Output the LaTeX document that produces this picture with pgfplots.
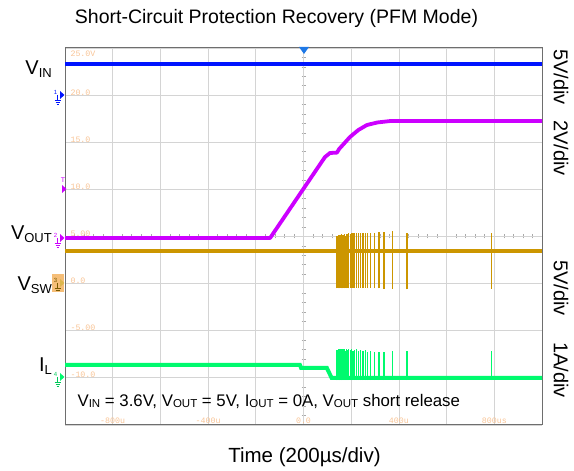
\documentclass[border=0pt]{standalone}
\usepackage{pgfplots}
\pgfplotsset{compat=1.18}
\usepackage{pgfplotstable}
\usepackage{fontspec}
\setmainfont{Liberation Sans}
\newfontfamily\monofont{Liberation Mono}
\definecolor{vinblue}{RGB}{0,20,255}
\definecolor{trigblue}{RGB}{30,120,230}
\definecolor{voutpurple}{RGB}{204,0,255}
\definecolor{vsworange}{RGB}{204,150,0}
\definecolor{ilgreen}{RGB}{0,250,110}
\definecolor{lbl}{RGB}{248,196,150}
\definecolor{boxorange}{RGB}{245,190,120}
\definecolor{gridgray}{RGB}{212,212,212}
\definecolor{framegray}{RGB}{110,110,110}

\pgfplotstableread{
t v
-1000 23.30
1000 23.30
}\vin
\pgfplotstableread{
t v
-1000 4.84
-140 4.84
90 13.43
111 13.86
140 13.90
150 14.30
195 15.56
230 16.30
266 16.83
310 17.10
363 17.25
1000 17.25
}\vout
\pgfplotstableread{
t v
-1000 3.46
1000 3.46
}\vsw
\pgfplotstableread{
t lo h
138 -0.45 5.5
141 -0.50 5.6
144 -0.45 5.4
147 -0.50 5.7
150 -0.40 5.3
153 -0.50 5.7
156 -0.45 5.6
159 -0.50 5.8
162 -0.40 5.5
165 -0.50 5.7
168 -0.45 5.6
172 -0.50 5.8
176 -0.45 5.5
180 -0.50 5.8
184 -0.45 5.7
190 -0.50 5.9
196 -0.45 5.7
202 -0.50 5.9
208 -0.45 5.8
215 -0.50 5.9
222 -0.45 5.8
230 -0.50 5.9
240 -0.45 5.8
250 -0.50 5.9
260 -0.45 5.85
268 -0.50 5.9
282 -0.45 5.85
298 -0.50 5.9
316 -0.50 5.95
338 -0.55 6.0
372 -0.55 6.1
434 -0.60 6.0
787 -0.55 5.9
}\vswspk
\pgfplotstableread{
t v
-1000 -8.63
-15 -8.63
-10 -8.95
98 -8.95
118 -10.01
1000 -10.01
}\il
\pgfplotstableread{
t lo h
138 -10.25 3.0
141 -10.25 3.2
144 -10.25 3.1
147 -10.25 3.3
150 -10.25 3.2
153 -10.25 3.3
156 -10.25 3.1
159 -10.25 3.3
162 -10.25 3.2
165 -10.25 3.3
168 -10.25 3.2
172 -10.25 3.3
176 -10.25 3.1
180 -10.25 3.3
184 -10.25 3.2
190 -10.25 3.3
196 -10.25 3.2
202 -10.25 3.3
208 -10.25 3.1
215 -10.25 3.2
222 -10.25 3.3
230 -10.25 3.1
240 -10.25 3.2
250 -10.25 3.1
260 -10.25 3.2
268 -10.25 3.0
282 -10.25 3.1
298 -10.25 3.0
316 -10.25 3.0
338 -10.25 3.0
372 -10.25 3.1
434 -10.25 3.1
787 -10.25 3.1
}\ilspk

\newcommand{\sub}[1]{\raisebox{-2.5pt}{\fontsize{13}{13}\selectfont #1}}
\newcommand{\ssub}[1]{\raisebox{-1.5pt}{\fontsize{11.5}{11.5}\selectfont #1}}

\begin{document}
\begin{tikzpicture}[x=1pt,y=1pt]
\useasboundingbox (0,0) rectangle (574,471);
% centre-line minor ticks (overlay axis, zero at the centre of the screen)
\begin{axis}[
  at={(65pt,46pt)}, anchor=south west,
  scale only axis, width=477pt, height=377pt,
  xmin=-1000, xmax=1000, ymin=-20, ymax=20,
  axis lines=middle, axis line style={draw=none},
  xtick={-1000,-800,...,1000}, ytick={-20,-15,...,20},
  minor x tick num=4, minor y tick num=4,
  xticklabels={}, yticklabels={},
  tick align=center, major tick length=0pt, minor tick length=4pt,
  tick style={color=gridgray!80!black, line width=0.6pt},
]
\end{axis}
\begin{axis}[
  at={(65pt,46pt)}, anchor=south west,
  scale only axis, width=477pt, height=377pt,
  xmin=-1000, xmax=1000, ymin=-15, ymax=25,
  xtick={-1000,-800,...,1000}, ytick={-15,-10,...,25},
  xticklabels={}, yticklabels={},
  major tick length=0pt,
  grid=major, grid style={color=gridgray, line width=0.8pt},
  axis line style={color=framegray, line width=1pt},
  clip=true,
]
% orange scale labels
\begin{scope}[every node/.style={font=\monofont\fontsize{8.3}{8.3}\selectfont, text=lbl}]
\node[anchor=base west] at (axis cs:-1000,24.05) {\hspace*{2pt}25.0V};
\node[anchor=base west] at (axis cs:-1000,20) {\hspace*{2pt}20.0};
\node[anchor=base west] at (axis cs:-1000,15) {\hspace*{2pt}15.0};
\node[anchor=base west] at (axis cs:-1000,10) {\hspace*{2pt}10.0};
\node[anchor=base west] at (axis cs:-1000,5) {\hspace*{2pt}5.00};
\node[anchor=base west] at (axis cs:-1000,0) {\hspace*{2pt}0.0};
\node[anchor=base west] at (axis cs:-1000,-5) {\hspace*{2pt}-5.00};
\node[anchor=base west] at (axis cs:-1000,-10) {\hspace*{2pt}-10.0};
\node[anchor=base] at (axis cs:-800,-14.84) {-800u};
\node[anchor=base] at (axis cs:-400,-14.84) {-400u};
\node[anchor=base] at (axis cs:0,-14.84) {0.0};
\node[anchor=base] at (axis cs:400,-14.84) {400u};
\node[anchor=base] at (axis cs:800,-14.84) {800us};
\end{scope}
% traces
\addplot[vinblue, line width=3.5pt] table[x=t,y=v]{\vin};
\addplot[voutpurple, line width=3.8pt, line join=round] table[x=t,y=v]{\vout};
\addplot[vsworange, line width=3.8pt] table[x=t,y=v]{\vsw};
\addplot[draw=none, mark=none, error bars/.cd, y dir=plus, y explicit,
  error mark=none, error bar style={vsworange, line width=1.3pt}]
  table[x=t,y=lo,y error=h]{\vswspk};
\addplot[ilgreen, line width=4pt] table[x=t,y=v]{\il};
\addplot[draw=none, mark=none, error bars/.cd, y dir=plus, y explicit,
  error mark=none, error bar style={ilgreen, line width=1.3pt}]
  table[x=t,y=lo,y error=h]{\ilspk};
% annotation
\node[anchor=base west, font=\fontsize{16.8}{16.8}\selectfont] at (axis cs:-962,-13.0)
  {V\ssub{IN} = 3.6V, V\ssub{OUT} = 5V, I\ssub{OUT} = 0A, V\ssub{OUT} short release};
\end{axis}
% trigger marker
\fill[trigblue] (299,424) -- (309,424) -- (304,417) -- cycle;
% channel markers
\begin{scope}[line width=0.6pt]
 % ch1
 \fill[vinblue] (60,380) -- (64.5,376) -- (60,372) -- cycle;
 \node[font=\fontsize{6}{6}\selectfont, text=vinblue, inner sep=0] at (55.5,379) {1};
 \draw[vinblue] (57.5,376) -- (57.5,371) (54.5,371) -- (60.5,371) (55.5,369) -- (59.5,369) (56.5,367) -- (58.5,367);
 % ch2
 \fill[voutpurple] (60,237) -- (64.5,233) -- (60,229) -- cycle;
 \node[font=\fontsize{6}{6}\selectfont, text=voutpurple, inner sep=0] at (55.5,236) {2};
 \draw[voutpurple] (57.5,233) -- (57.5,228) (54.5,228) -- (60.5,228) (55.5,226) -- (59.5,226) (56.5,224) -- (58.5,224);
 % trigger level
 \fill[voutpurple] (62,286) -- (66.5,282) -- (62,278) -- cycle;
 \node[font=\fontsize{7}{7}\selectfont, text=voutpurple, inner sep=0] at (63,291) {T};
 % ch3
 \fill[boxorange] (52,179) rectangle (64,197);
 \fill[vsworange!70!white] (60,192) -- (64.5,188) -- (60,184) -- cycle;
 \node[font=\fontsize{6}{6}\selectfont, text=vsworange!60!black, inner sep=0] at (55.5,191) {3};
 \draw[vsworange!60!black] (57.5,188) -- (57.5,183) (54.5,183) -- (60.5,183) (55.5,181) -- (59.5,181);
 % ch4
 \fill[ilgreen] (60,98) -- (64.5,94) -- (60,90) -- cycle;
 \node[font=\fontsize{6}{6}\selectfont, text=ilgreen!80!black, inner sep=0] at (55.5,97) {4};
 \draw[ilgreen!80!black] (57.5,94) -- (57.5,89) (54.5,89) -- (60.5,89) (55.5,87) -- (59.5,87) (56.5,85) -- (58.5,85);
\end{scope}
% left labels
\node[anchor=base east, font=\fontsize{20}{20}\selectfont, inner sep=0] at (52,396) {V\sub{IN}};
\node[anchor=base east, font=\fontsize{20}{20}\selectfont, inner sep=0] at (52,231) {V\sub{OUT}};
\node[anchor=base east, font=\fontsize{20}{20}\selectfont, inner sep=0] at (52,180) {V\sub{SW}};
\node[anchor=base east, font=\fontsize{20}{20}\selectfont, inner sep=0] at (52,99) {I\sub{L}};
% right labels
\node[rotate=-90, font=\fontsize{20}{20}\selectfont, inner sep=0] at (561,394) {5V/div};
\node[rotate=-90, font=\fontsize{20}{20}\selectfont, inner sep=0] at (561,323) {2V/div};
\node[rotate=-90, font=\fontsize{20}{20}\selectfont, inner sep=0] at (561,183) {5V/div};
\node[rotate=-90, font=\fontsize{20}{20}\selectfont, inner sep=0] at (561,101) {1A/div};
% title and x label
\node[anchor=base, font=\fontsize{19.5}{19.5}\selectfont, inner sep=0] at (276.5,447) {Short-Circuit Protection Recovery (PFM Mode)};
\node[anchor=base, font=\fontsize{20.5}{20.5}\selectfont, inner sep=0] at (304.5,8) {Time (200µs/div)};
\end{tikzpicture}
\end{document}
